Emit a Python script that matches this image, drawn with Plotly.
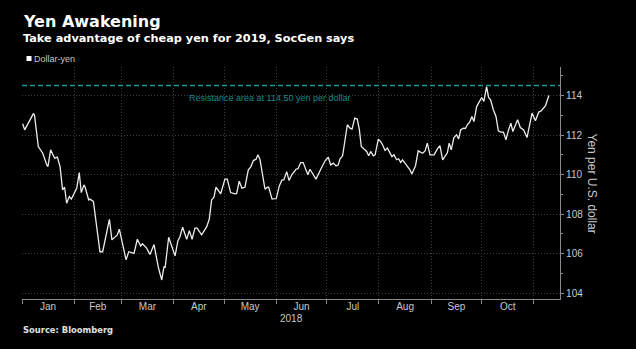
import plotly.graph_objects as go
import pandas as pd

# ---------------- data ----------------
title_text = "Yen Awakening"
subtitle_text = "Take advantage of cheap yen for 2019, SocGen says"
series_name = "Dollar-yen"
source_text = "Source: Bloomberg"
y_title = "Yen per U.S. dollar"
year_label = "2018"
resistance_level = 114.50
resistance_label = "Resistance area at 114.50 yen per dollar"

start_date = "2018-01-01"
# days elapsed since 1 Jan 2018
day_offsets = [
    0.4, 1.6, 6.7, 7.4, 9.7, 12.3, 14.7, 15.4, 17.0, 19.4, 21.0, 22.6, 24.1, 25.3,
    26.5, 28.1, 29.3, 32.5, 34.0, 35.2, 36.8, 37.5, 39.6, 40.3, 42.4, 46.3, 47.9,
    51.9, 53.4, 56.6, 57.8, 61.8, 63.4, 66.5, 68.5, 70.5, 71.5, 74.0, 76.0, 78.4,
    81.0, 83.0, 84.3, 85.0, 87.1, 89.1, 90.9, 92.6, 93.8, 95.4, 97.8, 99.4, 101.0,
    102.7, 104.0, 106.7, 109.7, 111.2, 112.6, 114.0, 115.2, 118.0, 120.5, 121.9,
    123.9, 126.5, 127.5, 129.0, 130.6, 132.4, 134.4, 135.8, 137.4, 139.0, 140.1,
    141.3, 142.9, 144.3, 145.7, 146.5, 148.5, 150.2, 151.0, 152.8, 154.4, 155.5,
    157.2, 158.6, 160.2, 162.7, 163.9, 165.5, 167.0, 168.6, 169.8, 171.0, 173.0,
    174.6, 177.4, 180.1, 181.9, 183.3, 184.9, 186.5, 187.8, 188.8, 190.4, 191.8,
    193.2, 194.8, 196.0, 197.6, 199.1, 200.3, 201.5, 203.1, 204.7, 205.9, 207.1,
    208.6, 209.7, 211.6, 213.0, 214.2, 215.6, 217.0, 218.6, 219.7, 220.9, 222.5,
    223.7, 224.9, 226.0, 227.6, 229.4, 230.4, 231.5, 233.7, 235.3, 237.9, 239.4,
    240.7, 242.3, 244.7, 246.7, 248.2, 249.8, 251.4, 252.6, 253.7, 254.9, 256.5,
    258.1, 259.3, 260.5, 262.1, 263.3, 264.5, 266.0, 267.2, 268.4, 270.0, 271.6,
    273.0, 274.3, 275.9, 277.1, 278.3, 279.9, 281.5, 282.9, 284.3, 285.9, 287.4,
    288.8, 290.3, 291.5, 294.3, 295.9, 297.9, 299.9, 301.5, 302.9, 304.9, 306.9,
    308.3, 310.9, 312.9,
]
usd_jpy = [
    112.57, 112.26, 113.07, 113.02, 111.42, 111.08, 110.50, 110.40, 111.25, 110.83,
    110.88, 110.40, 109.23, 109.36, 108.55, 108.89, 108.76, 109.31, 110.10, 109.09,
    109.48, 109.36, 108.72, 108.76, 108.64, 106.10, 106.10, 107.74, 106.70, 106.95,
    107.24, 105.69, 106.10, 106.02, 106.73, 106.39, 106.50, 106.28, 105.96, 106.46,
    105.30, 104.67, 105.35, 105.30, 106.83, 106.36, 105.89, 106.66, 106.86, 107.34,
    106.73, 107.17, 106.73, 107.29, 107.29, 106.95, 107.37, 107.74, 108.72, 108.86,
    109.36, 109.03, 109.77, 109.77, 109.09, 109.03, 109.05, 109.67, 109.31, 109.36,
    110.24, 110.38, 110.71, 110.78, 111.00, 110.78, 109.99, 109.26, 109.36, 109.36,
    108.76, 108.79, 108.79, 109.43, 109.73, 109.73, 110.15, 109.70, 109.99, 110.27,
    110.30, 110.61, 110.61, 110.24, 109.99, 110.27, 109.99, 109.77, 110.27, 110.71,
    110.88, 110.49, 110.58, 110.44, 110.49, 110.78, 110.95, 111.76, 112.52, 112.35,
    112.30, 112.86, 112.81, 112.30, 111.42, 111.29, 111.17, 110.95, 111.17, 110.95,
    111.00, 111.79, 111.67, 111.50, 111.22, 111.34, 111.12, 110.91, 111.00, 110.75,
    110.80, 110.61, 110.75, 110.58, 110.38, 110.24, 110.03, 110.45, 111.20, 111.08,
    111.20, 111.59, 111.00, 111.00, 111.30, 111.47, 110.75, 110.96, 111.10, 111.59,
    111.25, 111.87, 112.01, 111.80, 112.26, 112.35, 112.33, 112.52, 112.68, 112.94,
    112.68, 113.44, 113.70, 113.90, 113.70, 114.45, 113.90, 113.78, 113.28, 112.94,
    112.21, 112.15, 112.15, 111.76, 112.21, 112.60, 112.18, 112.77, 112.38, 112.26,
    111.87, 112.55, 113.11, 112.72, 113.16, 113.22, 113.49, 114.00,
]

month_starts = ["2018-01-01", "2018-02-01", "2018-03-01", "2018-04-01", "2018-05-01",
                "2018-06-01", "2018-07-01", "2018-08-01", "2018-09-01", "2018-10-01",
                "2018-11-01"]
month_labels = ["Jan", "Feb", "Mar", "Apr", "May", "Jun", "Jul", "Aug", "Sep", "Oct"]
y_ticks = [104, 106, 108, 110, 112, 114]
x_range = ["2018-01-01", "2018-11-16 12:00"]
y_range = [103.71, 115.44]

# ---------------- derived ----------------
dates = pd.Timestamp(start_date) + pd.to_timedelta(day_offsets, unit="D")
ms = pd.to_datetime(month_starts)
month_mids = [ms[i] + (ms[i + 1] - ms[i]) / 2 for i in range(len(month_labels))]

# ---------------- style / layout helpers ----------------
W, H = 636, 349
L, R, T, B = 22, 76, 67, 50
plot_h = H - T - B
plot_w = W - L - R


def py(pix):  # pixel y -> paper y
    return (H - B - pix) / plot_h


def px(pix):  # pixel x -> paper x
    return (pix - L) / plot_w


BOLD = "DejaVu Sans"
REG = "Liberation Sans, Arial, sans-serif"
LBL = "#c8c8c8"
TEAL_LINE = "#1a9a9a"
TEAL_TEXT = "#178a8a"
GRID = "#3c3c3c"
AXIS = "#8a8a8a"

fig = go.Figure()
fig.add_trace(go.Scatter(
    x=dates, y=usd_jpy, mode="lines", name=series_name, showlegend=False,
    line=dict(color="#ececec", width=1.3), hoverinfo="skip",
))
# helper trace so the label axis is drawn
fig.add_trace(go.Scatter(
    x=month_mids, y=[None] * len(month_mids), xaxis="x2", mode="lines",
    showlegend=False, hoverinfo="skip",
))

fig.add_shape(type="line", xref="paper", x0=0, x1=1, yref="y",
              y0=resistance_level, y1=resistance_level,
              line=dict(color=TEAL_LINE, width=1.5, dash="5px,3px"))

# legend square
fig.add_shape(type="rect", xref="paper", yref="paper",
              x0=px(26.5), x1=px(31.5), y0=py(61), y1=py(56),
              fillcolor="#ffffff", line=dict(width=0))

annotations = [
    dict(text="<b>" + title_text + "</b>", x=px(21), y=py(21), xanchor="left",
         yanchor="middle", font=dict(family=BOLD, size=16, color="#ffffff")),
    dict(text="<b>" + subtitle_text + "</b>", x=px(21), y=py(38.5), xanchor="left",
         yanchor="middle", font=dict(family=BOLD, size=11.3, color="#ffffff")),
    dict(text=series_name, x=px(32), y=py(58.5), xanchor="left", yanchor="middle",
         font=dict(family=REG, size=9, color=LBL)),
    dict(text="<b>" + source_text + "</b>", x=px(21), y=py(330), xanchor="left",
         yanchor="middle", font=dict(family=BOLD, size=8.4, color="#e0e0e0")),
    dict(text=year_label, x=0.5, y=py(318), xanchor="center", yanchor="middle",
         font=dict(family=REG, size=10, color=LBL)),
    dict(text=y_title, x=px(591.5), y=0.5, xanchor="center", yanchor="middle",
         textangle=90, font=dict(family=REG, size=12, color=LBL)),
]
for a in annotations:
    a.update(xref="paper", yref="paper", showarrow=False)

annotations.append(dict(
    text=resistance_label, xref="x", yref="y", x="2018-05-28", y=resistance_level,
    xanchor="center", yanchor="top", yshift=-5, showarrow=False,
    font=dict(family=REG, size=9, color=TEAL_TEXT)))

fig.update_layout(
    width=W, height=H,
    margin=dict(l=L, r=R, t=T, b=B, pad=0),
    paper_bgcolor="#000000", plot_bgcolor="#000000",
    showlegend=False,
    annotations=annotations,
    xaxis=dict(
        type="date", range=x_range, tickvals=month_starts, showticklabels=False,
        ticks="outside", ticklen=4, tickcolor=AXIS, tickwidth=1,
        showline=True, linecolor=AXIS, linewidth=1.2,
        showgrid=True, gridcolor=GRID, griddash="1px,2px", gridwidth=1,
        zeroline=False, fixedrange=True,
    ),
    xaxis2=dict(
        type="date", range=x_range, overlaying="x", anchor="y", side="bottom",
        tickvals=month_mids, ticktext=month_labels, ticks="", showline=False,
        showgrid=False, zeroline=False, tickfont=dict(family=REG, size=10, color=LBL),
    ),
    yaxis=dict(
        side="right", range=y_range, tickvals=y_ticks,
        ticks="outside", ticklen=3, tickcolor=AXIS,
        showline=True, linecolor=AXIS, linewidth=1.2,
        showgrid=True, gridcolor=GRID, griddash="1px,2px", gridwidth=1,
        zeroline=False, tickfont=dict(family=REG, size=10, color=LBL),
        minor=dict(dtick=1, tick0=103, ticks="outside", ticklen=2, tickcolor=AXIS,
                   showgrid=False),
    ),
)

fig.write_html("out.html")
